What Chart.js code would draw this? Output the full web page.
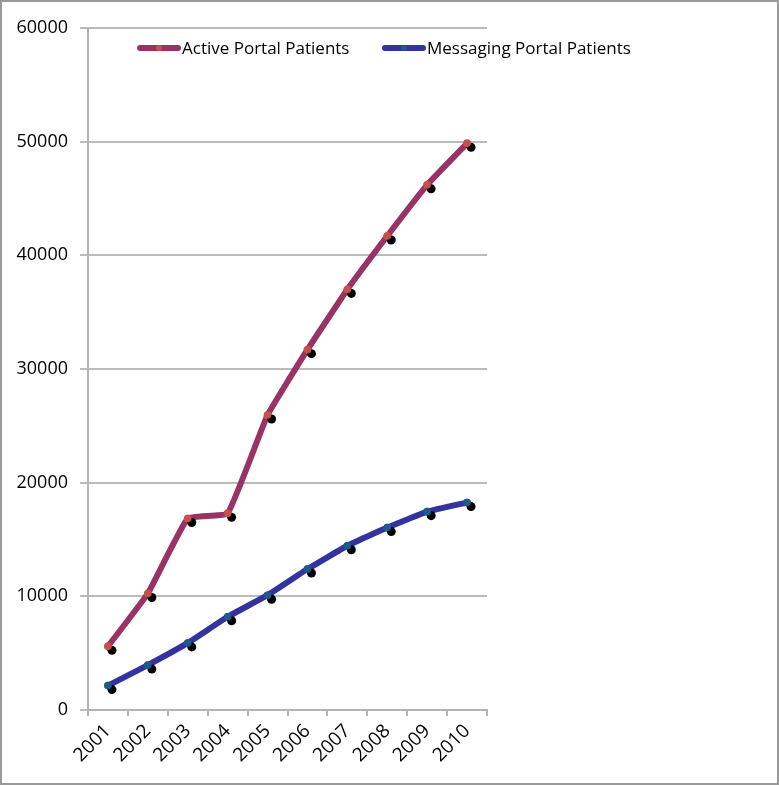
<!DOCTYPE html>
<html>
<head>
<meta charset="utf-8">
<script src="https://cdn.jsdelivr.net/npm/chart.js@4.4.1/dist/chart.umd.min.js"></script>
<style>
  html, body { margin: 0; padding: 0; background: #fff; }
  #wrap { position: relative; width: 779px; height: 785px; }
</style>
</head>
<body>
<div id="wrap"><canvas id="myChart"></canvas></div>
<script>
const years = ["2001", "2002", "2003", "2004", "2005", "2006", "2007", "2008", "2009", "2010"];
const activePatients = [5600, 10250, 16850, 17300, 25950, 31700, 37000, 41700, 46200, 49850];
const messagingPatients = [2150, 3950, 5900, 8200, 10100, 12400, 14450, 16050, 17450, 18250];
const seriesNames = ["Active Portal Patients", "Messaging Portal Patients"];

const FONT = "'Open Sans', sans-serif";

// gray frame + white background
const frame = {
  id: "frame",
  beforeDraw(chart) {
    const ctx = chart.ctx;
    ctx.save();
    ctx.fillStyle = "#fff";
    ctx.fillRect(0, 0, chart.width, chart.height);
    ctx.restore();
  },
  afterDraw(chart) {
    const ctx = chart.ctx;
    ctx.save();
    ctx.strokeStyle = "#999";
    ctx.lineWidth = 2;
    ctx.strokeRect(1, 1, chart.width - 2, chart.height - 2);
    ctx.restore();
  },
};

// black marker shadows, offset down-right, then markers again on top
const shadows = {
  id: "shadows",
  afterDatasetsDraw(chart) {
    const ctx = chart.ctx;
    ctx.save();
    ctx.fillStyle = "#000";
    chart.data.datasets.forEach((ds, i) => {
      chart.getDatasetMeta(i).data.forEach((pt) => {
        ctx.beginPath();
        ctx.arc(pt.x + 4, pt.y + 4, 4.5, 0, Math.PI * 2);
        ctx.fill();
      });
    });
    ctx.restore();
    chart.data.datasets.forEach((ds, i) => {
      chart.getDatasetMeta(i).data.forEach((pt) => pt.draw(ctx, chart.chartArea));
    });
  },
};

// legend drawn over the top of the plot
const topLegend = {
  id: "topLegend",
  afterDraw(chart) {
    const ctx = chart.ctx;
    const starts = [137, 382];
    const y = 48;
    ctx.save();
    ctx.font = "17px " + FONT;
    ctx.textBaseline = "middle";
    chart.data.datasets.forEach((ds, i) => {
      const x0 = starts[i];
      ctx.strokeStyle = ds.borderColor;
      ctx.lineWidth = 6;
      ctx.lineCap = "round";
      ctx.beginPath();
      ctx.moveTo(x0 + 3, y);
      ctx.lineTo(x0 + 41, y);
      ctx.stroke();
      ctx.fillStyle = ds.pointBackgroundColor;
      ctx.beginPath();
      ctx.arc(x0 + 22, y, 3, 0, Math.PI * 2);
      ctx.fill();
      ctx.fillStyle = "#000";
      ctx.fillText(ds.label, x0 + 45, y + 1);
    });
    ctx.restore();
  },
};

const data = {
  labels: years,
  datasets: [
    {
      label: seriesNames[0],
      data: activePatients,
      borderColor: "#993366",
      pointBackgroundColor: "#C8504A",
      pointBorderWidth: 0,
      borderWidth: 6,
      pointRadius: 3.8,
      tension: 0.1,
    },
    {
      label: seriesNames[1],
      data: messagingPatients,
      borderColor: "#3333A0",
      pointBackgroundColor: "#1F5A8A",
      pointBorderWidth: 0,
      borderWidth: 6,
      pointRadius: 3.8,
      tension: 0.1,
    },
  ],
};

const config = {
  type: "line",
  data: data,
  options: {
    responsive: true,
    maintainAspectRatio: false,
    animation: false,
    layout: {
      padding: { top: 28, right: 292, left: 0, bottom: 0 },
    },
    plugins: {
      legend: { display: false },
      tooltip: { enabled: false },
    },
    scales: {
      x: {
        offset: true,
        grid: {
          offset: true,
          drawOnChartArea: false,
          drawTicks: true,
          tickLength: 6,
          color: "#b3b3b3",
          lineWidth: 2,
        },
        border: { color: "#b3b3b3", width: 2 },
        ticks: {
          color: "#000",
          font: { family: FONT, size: 19 },
          maxRotation: 45,
          minRotation: 45,
          padding: 4,
        },
        afterFit: (scale) => { scale.height = 75; },
      },
      y: {
        min: 0,
        max: 60000,
        grid: {
          color: "#bbbbbb",
          lineWidth: 2,
          tickLength: 8,
        },
        border: { color: "#b3b3b3", width: 2 },
        ticks: {
          stepSize: 10000,
          color: "#000",
          font: { family: FONT, size: 18 },
          padding: 12,
          callback: (v) => String(v),
        },
        afterFit: (scale) => { scale.width = 88; },
      },
    },
  },
  plugins: [frame, shadows, topLegend],
};

const myChart = new Chart(document.getElementById("myChart"), config);
</script>
</body>
</html>
